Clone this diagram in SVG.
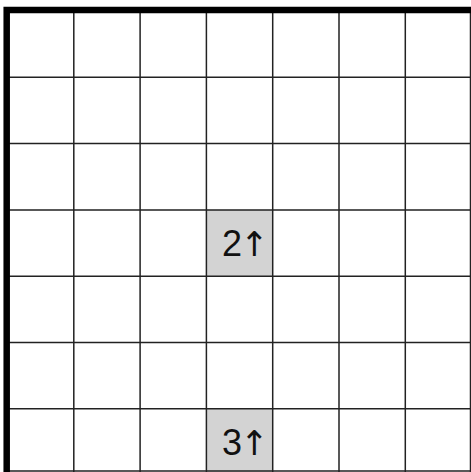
<svg xmlns="http://www.w3.org/2000/svg" width="471" height="472" viewBox="0 0 471 472">
<style>
.g{stroke:#222;stroke-width:1.5;fill:none}
.cell{fill:#d3d3d3}
.lbl{font-family:"Liberation Sans",Arial,sans-serif;font-size:36px;fill:#111}
.ar{font-family:"DejaVu Sans",sans-serif;font-size:34px}
.b{stroke:#000;stroke-width:6.5;fill:none}
</style>
<rect width="471" height="472" fill="#fff"/>
<g id="cell-2">
<rect class="cell" x="206.4" y="209.9" width="66.3" height="66.3"/>
<text class="lbl" x="222" y="256">2<tspan class="ar" dx="-2">↑</tspan></text>
</g>
<g id="cell-3">
<rect class="cell" x="206.4" y="408.8" width="66.3" height="66.3"/>
<text class="lbl" x="222" y="455">3<tspan class="ar" dx="-2">↑</tspan></text>
</g>
<g id="grid">
<path class="g" d="M73.8 11V472M140.1 11V472M206.4 11V472M272.7 11V472M339 11V472M405.3 11V472M470.5 11V472M7 77.3H471M7 143.6H471M7 209.9H471M7 276.2H471M7 342.5H471M7 408.8H471M7 471H471"/>
<path class="b" d="M6.7 472V10H471"/>
</g>
</svg>
